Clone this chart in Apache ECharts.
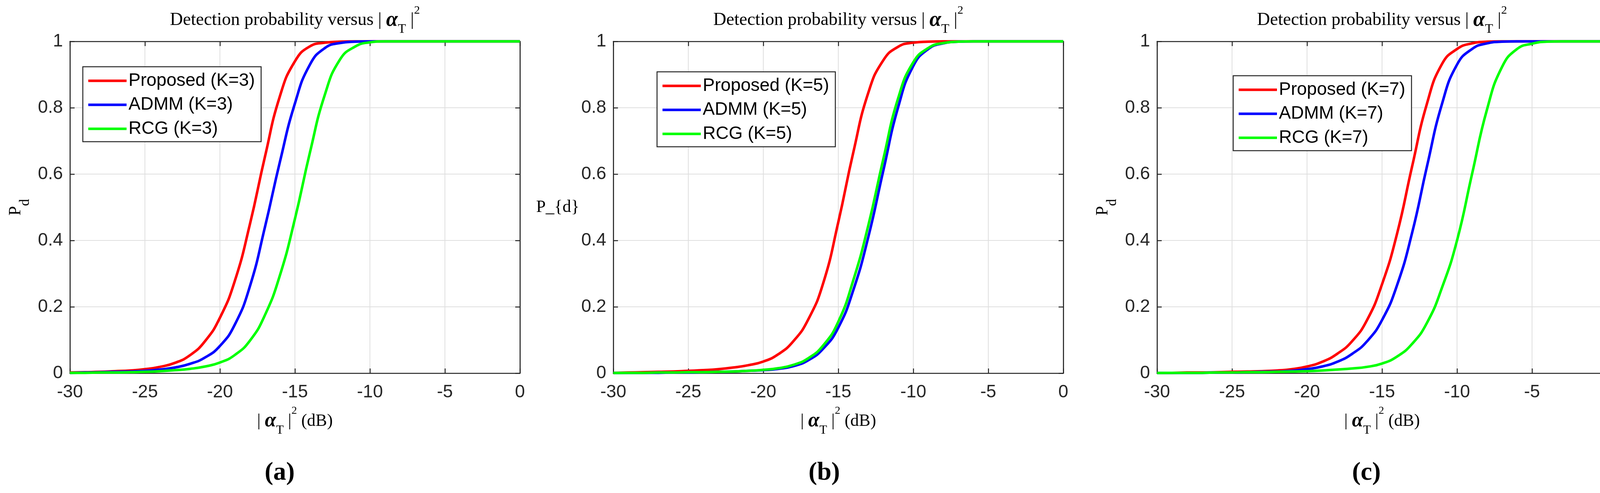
<!DOCTYPE html>
<html>
<head>
<meta charset="utf-8">
<title>Detection probability</title>
<script src="https://cdn.jsdelivr.net/npm/echarts@6.0.0/dist/echarts.min.js"></script>
<style>
  html, body { margin: 0; padding: 0; background: #fff; }
  #chart { width: 4146px; height: 1263px; }
</style>
</head>
<body>
<div id="chart"></div>
<script>
// |alpha_T|^2 in dB, shared by every curve
const alphaDb = [-30, -29, -28, -27, -26, -25, -24, -23, -22, -21, -20, -19, -18, -17, -16,
  -15, -14, -13, -12, -11, -10, -9, -8, -7, -6, -5, -4, -3, -2, -1, 0];

// (a) K = 3
const proposedK3 = [0.002, 0.003, 0.004, 0.006, 0.008, 0.012, 0.019, 0.031, 0.054, 0.096, 0.167, 0.279, 0.449, 0.652, 0.835,
  0.94, 0.985, 0.996, 0.999, 1, 1, 1, 1, 1, 1, 1, 1, 1, 1, 1, 1];
const admmK3 = [0.001, 0.002, 0.003, 0.004, 0.005, 0.007, 0.011, 0.017, 0.028, 0.047, 0.082, 0.147, 0.262, 0.44, 0.637,
  0.813, 0.93, 0.98, 0.995, 0.999, 1, 1, 1, 1, 1, 1, 1, 1, 1, 1, 1];
const rcgK3 = [0.001, 0.001, 0.002, 0.002, 0.003, 0.004, 0.006, 0.009, 0.013, 0.02, 0.032, 0.055, 0.098, 0.175, 0.295,
  0.465, 0.665, 0.84, 0.945, 0.984, 0.997, 1, 1, 1, 1, 1, 1, 1, 1, 1, 1];

// (b) K = 5
const proposedK5 = [0.001, 0.002, 0.003, 0.004, 0.005, 0.007, 0.009, 0.012, 0.017, 0.024, 0.035, 0.057, 0.096, 0.162, 0.272,
  0.455, 0.665, 0.845, 0.943, 0.984, 0.996, 0.999, 1, 1, 1, 1, 1, 1, 1, 1, 1];
const admmK5 = [0.0005, 0.001, 0.001, 0.001, 0.002, 0.002, 0.003, 0.004, 0.005, 0.007, 0.009, 0.013, 0.021, 0.039, 0.074,
  0.137, 0.25, 0.41, 0.61, 0.803, 0.926, 0.977, 0.994, 0.999, 1, 1, 1, 1, 1, 1, 1];
const rcgK5 = [0.0005, 0.001, 0.001, 0.002, 0.002, 0.003, 0.003, 0.004, 0.005, 0.007, 0.01, 0.015, 0.025, 0.045, 0.084,
  0.155, 0.28, 0.445, 0.645, 0.83, 0.937, 0.98, 0.995, 0.999, 1, 1, 1, 1, 1, 1, 1];

// (c) K = 7
const proposedK7 = [0.001, 0.001, 0.002, 0.002, 0.003, 0.004, 0.005, 0.006, 0.008, 0.012, 0.02, 0.034, 0.058, 0.096, 0.16,
  0.268, 0.42, 0.622, 0.813, 0.932, 0.977, 0.994, 0.999, 1, 1, 1, 1, 1, 1, 1, 1];
const admmK7 = [0.0005, 0.001, 0.001, 0.001, 0.002, 0.002, 0.003, 0.004, 0.005, 0.007, 0.012, 0.02, 0.034, 0.058, 0.096,
  0.16, 0.265, 0.422, 0.624, 0.812, 0.93, 0.977, 0.994, 0.999, 1, 1, 1, 1, 1, 1, 1];
const rcgK7 = [0.0005, 0.001, 0.001, 0.001, 0.002, 0.002, 0.003, 0.003, 0.004, 0.005, 0.006, 0.008, 0.011, 0.014, 0.019,
  0.029, 0.05, 0.088, 0.152, 0.258, 0.4, 0.6, 0.795, 0.923, 0.977, 0.993, 0.999, 1, 1, 1, 1];

const methods = ['Proposed', 'ADMM', 'RCG'];
const colors = ['#ff0000', '#0000ff', '#00ff00'];
const kValues = [3, 5, 7];
const panelTags = ['(a)', '(b)', '(c)'];
const panelData = [
  [proposedK3, admmK3, rcgK3],
  [proposedK5, admmK5, rcgK5],
  [proposedK7, admmK7, rcgK7]
];

const SERIF = '"Liberation Serif", "Times New Roman", serif';
const SANS = '"Liberation Sans", Arial, Helvetica, sans-serif';
const AX = '#262626';

// layout of the three panels (pixels)
const panels = [
  { left: 179, legendLeft: 212, legendTop: 171, tagX: 716, plainY: false },
  { left: 1570, legendLeft: 1682, legendTop: 184, tagX: 2110, plainY: true },
  { left: 2962, legendLeft: 3157, legendTop: 194, tagX: 3498, plainY: false }
];
const plotW = 1152, plotTop = 106, plotH = 850;

const mathRich = (base) => ({
  al: { fontFamily: SERIF, fontSize: base + 8, fontStyle: 'italic', fontWeight: 'bold', lineHeight: 80, color: '#000' },
  sb: { fontFamily: SERIF, fontSize: base - 12, lineHeight: 30, verticalAlign: 'bottom', color: '#000' },
  sp: { fontFamily: SERIF, fontSize: base - 16, lineHeight: 50, verticalAlign: 'top', color: '#000' }
});

let myChart = echarts.init(document.getElementById('chart'));

let grid = [], xAxis = [], yAxis = [], series = [], legend = [], title = [];

panels.forEach(function (p, i) {
    grid.push({ left: p.left, top: plotTop, width: plotW, height: plotH, containLabel: false, outerBoundsMode: 'none' });

    title.push({
        text: 'Detection probability versus | {al|α}{sb|T} |{sp|2}',
        left: p.left + plotW / 2, top: 12, textAlign: 'center', padding: 0,
        textStyle: { fontFamily: SERIF, fontSize: 46, fontWeight: 'normal', color: '#000', lineHeight: 80, rich: mathRich(46) }
    });
    title.push({
        text: panelTags[i],
        left: p.tagX, top: 1177, textAlign: 'center', padding: 0,
        textStyle: { fontFamily: SERIF, fontSize: 66, fontWeight: 'bold', color: '#000', lineHeight: 70 }
    });

    const tickStyle = { show: true, inside: true, length: 12, lineStyle: { color: AX, width: 2.5 } };
    const lineStyle = { show: true, onZero: false, lineStyle: { color: AX, width: 2.7 } };

    // bottom x axis
    xAxis.push({
        type: 'value', gridIndex: i, position: 'bottom', min: -30, max: 0, interval: 5,
        axisLine: lineStyle, axisTick: tickStyle,
        axisLabel: { margin: 26, fontSize: 46, fontFamily: SANS, color: AX },
        splitLine: { show: true, lineStyle: { color: '#dfdfdf', width: 2 } },
        name: '| {al|α}{sb|T} |{sp|2} (dB)', nameLocation: 'middle', nameGap: 83,
        nameTextStyle: { fontFamily: SERIF, fontSize: 44, color: '#000', lineHeight: 80, rich: mathRich(44) }
    });
    // top x axis (box)
    xAxis.push({
        type: 'value', gridIndex: i, position: 'top', min: -30, max: 0, interval: 5,
        axisLine: lineStyle, axisTick: tickStyle, axisLabel: { show: false }, splitLine: { show: false }
    });

    const yName = p.plainY
        ? { name: 'P_{d}', nameRotate: 0, nameGap: 76,
            nameTextStyle: { fontFamily: SERIF, fontSize: 44, color: '#000' } }
        : { name: 'P{sb|d}', nameGap: 96,
            nameTextStyle: { fontFamily: SERIF, fontSize: 44, color: '#000', lineHeight: 86,
                rich: { sb: { fontFamily: SERIF, fontSize: 36, lineHeight: 36, verticalAlign: 'bottom', color: '#000' } } } };

    yAxis.push(Object.assign({
        type: 'value', gridIndex: i, position: 'left', min: 0, max: 1, interval: 0.2,
        axisLine: lineStyle, axisTick: tickStyle,
        axisLabel: { margin: 18, fontSize: 46, fontFamily: SANS, color: AX },
        splitLine: { show: true, lineStyle: { color: '#dfdfdf', width: 2 } },
        nameLocation: 'middle'
    }, yName));
    yAxis.push({
        type: 'value', gridIndex: i, position: 'right', min: 0, max: 1, interval: 0.2,
        axisLine: lineStyle, axisTick: tickStyle, axisLabel: { show: false }, splitLine: { show: false }
    });

    let names = [];
    methods.forEach(function (m, j) {
        const name = m + ' (K=' + kValues[i] + ')';
        names.push(name);
        series.push({
            name: name,
            type: 'line',
            xAxisIndex: 2 * i,
            yAxisIndex: 2 * i,
            data: alphaDb.map((x, k) => [x, panelData[i][j][k]]),
            showSymbol: false,
            smooth: 0.5,
            clip: false,
            color: colors[j],
            itemStyle: { color: colors[j] },
            lineStyle: { color: colors[j], width: 6.5 },
            emphasis: { disabled: true }
        });
    });

    legend.push({
        left: p.legendLeft, top: p.legendTop, orient: 'vertical',
        data: names,
        icon: 'rect', itemWidth: 98, itemHeight: 6.5, itemGap: 15.5,
        padding: [13, 16, 10, 14],
        backgroundColor: '#fff', borderColor: AX, borderWidth: 2.5, borderRadius: 0,
        selectedMode: false,
        textStyle: { fontFamily: SANS, fontSize: 46, color: '#000', lineHeight: 46 }
    });
});

let option = {
    animation: false,
    backgroundColor: '#fff',
    title: title,
    grid: grid,
    xAxis: xAxis,
    yAxis: yAxis,
    legend: legend,
    tooltip: { show: false },
    series: series
};

myChart.setOption(option);
</script>
</body>
</html>
